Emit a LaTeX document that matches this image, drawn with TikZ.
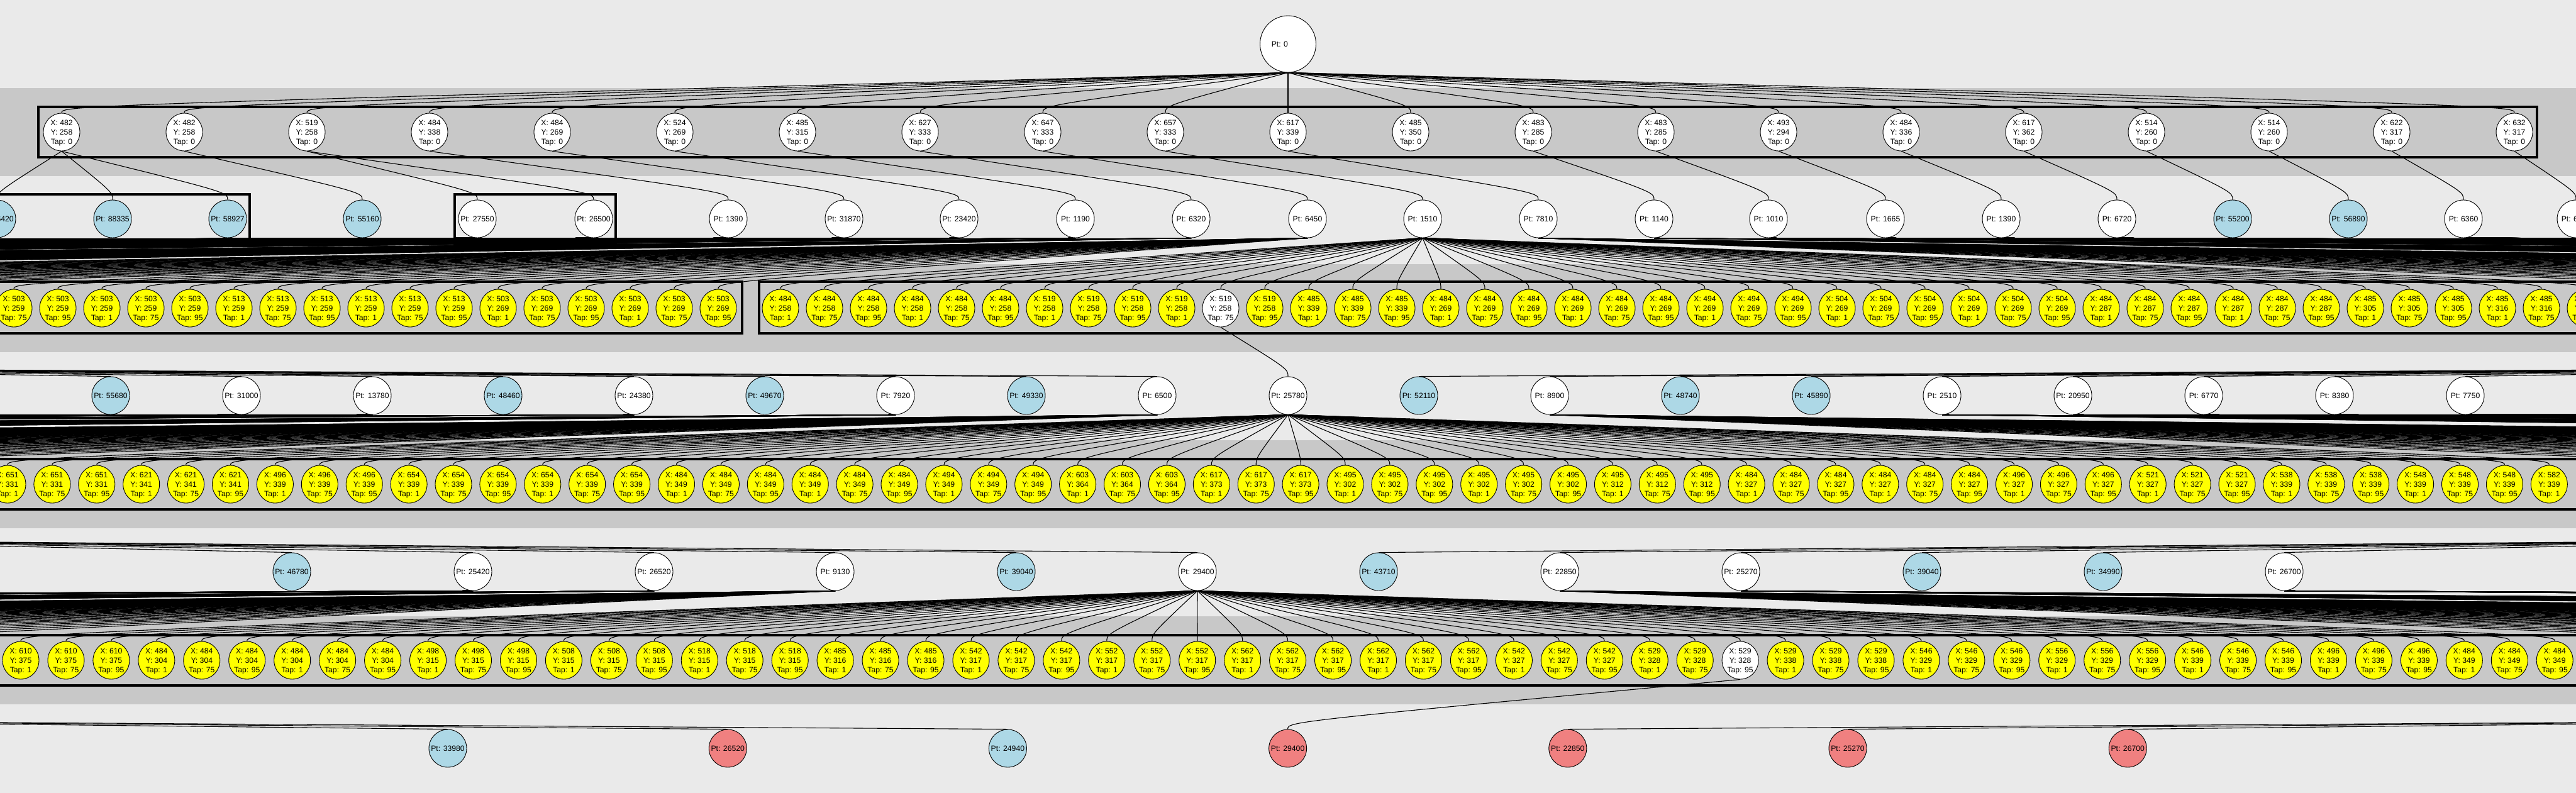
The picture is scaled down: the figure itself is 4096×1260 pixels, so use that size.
\documentclass[tikz,border=0pt]{standalone}
\usepackage{fontspec}
\setmainfont{Liberation Sans}
\usetikzlibrary{shapes.geometric,calc}
\definecolor{bgl}{HTML}{EAEAEA}
\definecolor{bgd}{HTML}{C8C8C8}
\definecolor{lblue}{HTML}{ADD8E6}
\definecolor{lcoral}{HTML}{F08080}
\definecolor{ylw}{HTML}{FFFF00}
\pgfdeclarelayer{back}
\pgfdeclarelayer{edges}
\pgfsetlayers{back,edges,main}
\newcommand\ntx[1]{\makebox[0pt]{\raisebox{-2.2pt}[0pt][0pt]{\begin{tabular}{@{}c@{}}#1\end{tabular}}}}
\newcommand\kedge[2]{\draw[ed] (#1.south) .. controls ($(#2.north)+(0,-12)$) .. (#2.north);}
\newcommand\farleft[7]{\foreach \m in {0,...,#7}{\pgfmathsetmacro\ye{#3+(#4-#3)*(#2/100+0.1)/(#2/100-(#5)+\m*#6)}\draw[ed] (#1.south) -- (-10,\ye);}}
\newcommand\farright[7]{\foreach \m in {0,...,#7}{\pgfmathsetmacro\ye{#3+(#4-#3)*(41.06-#2/100)/((#5)+\m*#6-#2/100)}\draw[ed] (#1.south) -- (4106,\ye);}}
\tikzset{
 nd/.style={ellipse,draw=black,line width=0.45pt,inner sep=0pt,minimum width=29pt,minimum height=30pt,font=\fontsize{6.1}{7.5}\selectfont},
 xn/.style={nd,fill=white},
 pw/.style={nd,fill=white,minimum width=30pt},
 pb/.style={nd,fill=lblue,minimum width=30pt},
 pr/.style={nd,fill=lcoral,minimum width=30pt},
 ed/.style={draw=black,line width=0.55pt},
 clus/.style={draw=black,line width=2pt}
}
\begin{document}
\begin{tikzpicture}[x=0.5pt,y=-0.5pt]
\useasboundingbox (0,0) rectangle (4096,1260);
\begin{pgfonlayer}{back}
\clip (0,0) rectangle (4096,1260);
\fill[bgl] (-10,-10) rectangle (4106,1270);
\foreach \yb in {140,420,700,980} {\fill[bgd] (-10,\yb) rectangle (4106,\yb+140);}
\draw[clus] (61,170) rectangle (4034,250);
\draw[clus] (-60,309) rectangle (397,388);
\draw[clus] (723,309) rectangle (979,388);
\draw[clus] (-2000,448) rectangle (1180,530);
\draw[clus] (1207,448) rectangle (4300,530);
\draw[clus] (-100,730) rectangle (4300,810);
\draw[clus] (-100,1010) rectangle (4300,1090);
\end{pgfonlayer}
% ---------- nodes ----------
\node[nd,fill=white,minimum width=44.5pt,minimum height=45pt] (root) at (2048,70) {\makebox[0pt][r]{\raisebox{-2.2pt}[0pt][0pt]{Pt: 0}}};
\foreach \xa/\ya [count=\i from 0] in {482/258,482/258,519/258,484/338,484/269,524/269,485/315,627/333,647/333,657/333,617/339,485/350,483/285,483/285,493/294,484/336,617/362,514/260,514/260,622/317,632/317}
  {\node[xn] (r\i) at ({98+195*\i},210) {\ntx{X: \xa\\Y: \ya\\Tap: 0}};}
\foreach \xp/\lb/\st [count=\i from 0] in {-5/56420/pb,179/88335/pb,362/58927/pb,576/55160/pb,759/27550/pw,944/26500/pw,1158/1390/pw,1342/31870/pw,1525/23420/pw,1710/1190/pw,1894/6320/pw,2079/6450/pw,2262/1510/pw,2446/7810/pw,2630/1140/pw,2812/1010/pw,2998/1665/pw,3182/1390/pw,3366/6720/pw,3550/55200/pb,3734/56890/pb,3917/6360/pw,4096/6170/pw}
  {\node[\st] (q\i) at (\xp,348) {\ntx{Pt: \lb}};}
\foreach \xa/\ya/\ta [count=\k from 0] in {503/259/75,503/259/95,503/259/1,503/259/75,503/259/95,513/259/1,513/259/75,513/259/95,513/259/1,513/259/75,513/259/95,503/269/1,503/269/75,503/269/95,503/269/1,503/269/75,503/269/95}
  {\node[nd,fill=ylw] (la\k) at ({22+70*\k},490) {\ntx{X: \xa\\Y: \ya\\Tap: \ta}};}
\foreach \xa/\ya/\ta [count=\k from 0] in {484/258/1,484/258/75,484/258/95,484/258/1,484/258/75,484/258/95,519/258/1,519/258/75,519/258/95,519/258/1,519/258/75,519/258/95,485/339/1,485/339/75,485/339/95,484/269/1,484/269/75,484/269/95,484/269/1,484/269/75,484/269/95,494/269/1,494/269/75,494/269/95,504/269/1,504/269/75,504/269/95,504/269/1,504/269/75,504/269/95,484/287/1,484/287/75,484/287/95,484/287/1,484/287/75,484/287/95,485/305/1,485/305/75,485/305/95,485/316/1,485/316/75,485/316/95}
  {\ifnum\k=10 \def\fc{white}\else\def\fc{ylw}\fi
   \node[nd,fill=\fc] (ra\k) at ({1241+70*\k},490) {\ntx{X: \xa\\Y: \ya\\Tap: \ta}};}
\foreach \lb/\st [count=\i from 0] in {55680/pb,31000/pw,13780/pw,48460/pb,24380/pw,49670/pb,7920/pw,49330/pb,6500/pw,25780/pw,52110/pb,8900/pw,48740/pb,45890/pb,2510/pw,20950/pw,6770/pw,8380/pw,7750/pw}
  {\node[\st] (s\i) at ({176+208*\i},629) {\ntx{Pt: \lb}};}
\foreach \xa/\ya/\ta [count=\k from 0] in {651/331/1,651/331/75,651/331/95,621/341/1,621/341/75,621/341/95,496/339/1,496/339/75,496/339/95,654/339/1,654/339/75,654/339/95,654/339/1,654/339/75,654/339/95,484/349/1,484/349/75,484/349/95,484/349/1,484/349/75,484/349/95,494/349/1,494/349/75,494/349/95,603/364/1,603/364/75,603/364/95,617/373/1,617/373/75,617/373/95,495/302/1,495/302/75,495/302/95,495/302/1,495/302/75,495/302/95,495/312/1,495/312/75,495/312/95,484/327/1,484/327/75,484/327/95,484/327/1,484/327/75,484/327/95,496/327/1,496/327/75,496/327/95,521/327/1,521/327/75,521/327/95,538/339/1,538/339/75,538/339/95,548/339/1,548/339/75,548/339/95,582/339/1}
  {\node[nd,fill=ylw] (rb\k) at ({12+70.9*\k},770) {\ntx{X: \xa\\Y: \ya\\Tap: \ta}};}
\foreach \lb/\st [count=\i from 0] in {46780/pb,25420/pw,26520/pw,9130/pw,39040/pb,29400/pw,43710/pb,22850/pw,25270/pw,39040/pb,34990/pb,26700/pw}
  {\node[\st] (t\i) at ({464+288*\i},909) {\ntx{Pt: \lb}};}
\foreach \xa/\ya/\ta [count=\k from 0] in {610/375/1,610/375/75,610/375/95,484/304/1,484/304/75,484/304/95,484/304/1,484/304/75,484/304/95,498/315/1,498/315/75,498/315/95,508/315/1,508/315/75,508/315/95,518/315/1,518/315/75,518/315/95,485/316/1,485/316/75,485/316/95,542/317/1,542/317/75,542/317/95,552/317/1,552/317/75,552/317/95,562/317/1,562/317/75,562/317/95,562/317/1,562/317/75,562/317/95,542/327/1,542/327/75,542/327/95,529/328/1,529/328/75,529/328/95,529/338/1,529/338/75,529/338/95,546/329/1,546/329/75,546/329/95,556/329/1,556/329/75,556/329/95,546/339/1,546/339/75,546/339/95,496/339/1,496/339/75,496/339/95,484/349/1,484/349/75,484/349/95}
  {\ifnum\k=38 \def\fc{white}\else\def\fc{ylw}\fi
   \node[nd,fill=\fc] (rc\k) at ({33+71.95*\k},1050) {\ntx{X: \xa\\Y: \ya\\Tap: \ta}};}
\foreach \lb/\st [count=\i from 0] in {33980/pb,26520/pr,24940/pb,29400/pr,22850/pr,25270/pr,26700/pr}
  {\node[\st] (u\i) at ({712+445.2*\i},1190) {\ntx{Pt: \lb}};}
% ---------- edges ----------
\begin{pgfonlayer}{edges}
\clip (0,0) rectangle (4096,1260);
\foreach \i in {0,...,20} {\kedge{root}{r\i}}
\foreach \a/\b in {0/0,0/1,0/2,1/3,2/4,2/5,3/6,4/7,5/8,6/9,7/10,8/11,9/12,10/13,12/14,13/15,14/16,15/17,16/18,17/19,18/20,19/21,20/22} {\kedge{r\a}{q\b}}
% layer A
\foreach \k in {0,...,16} {\kedge{q11}{la\k}}
\foreach \n in {1,...,25} {\draw[ed] (q11.south) -- ({22-70*\n},448);}
\foreach \k in {0,...,41} {\kedge{q12}{ra\k}}
\farleft{q10}{1894}{378}{448}{-18.25}{0.70}{41}
\farleft{q9}{1710}{378}{448}{-47.93}{0.70}{41}
\farleft{q8}{1525}{378}{448}{-77.61}{0.70}{41}
\farleft{q7}{1342}{378}{448}{-107.29}{0.70}{41}
\farleft{q6}{1158}{378}{448}{-136.97}{0.70}{41}
\farleft{q5}{944}{378}{448}{-166.65}{0.70}{41}
\farleft{q4}{759}{378}{448}{-196.33}{0.70}{41}
\farright{q13}{2446}{378}{448}{42.10}{0.70}{41}
\farright{q14}{2630}{378}{448}{71.78}{0.70}{41}
\farright{q15}{2812}{378}{448}{101.46}{0.70}{41}
\farright{q16}{2998}{378}{448}{131.14}{0.70}{41}
\farright{q17}{3182}{378}{448}{160.82}{0.70}{41}
\farright{q18}{3366}{378}{448}{190.50}{0.70}{41}
\farright{q21}{3917}{378}{448}{220.18}{0.70}{41}
% into row 4
\kedge{ra10}{s9}
\foreach \i in {0,...,8}{\pgfmathsetmacro\ye{599-79*((176+208*\i)/100+0.1)/((176+208*\i)/100+40+10*\i)}\draw[ed] (-10,\ye) -- (s\i.north);}
\foreach \i in {10,...,18}{\pgfmathsetmacro\ye{599-79*(41.06-(176+208*\i)/100)/(80.96+10*(18-\i)-(176+208*\i)/100)}\draw[ed] (4106,\ye) -- (s\i.north);}
% layer B
\foreach \k in {0,...,57} {\kedge{s9}{rb\k}}
\farleft{s8}{1840}{659}{728}{-0.87}{0.709}{57}
\farleft{s6}{1424}{659}{728}{-42.27}{0.709}{57}
\farleft{s4}{1008}{659}{728}{-83.67}{0.709}{57}
\farleft{s2}{592}{659}{728}{-125.07}{0.709}{57}
\farleft{s1}{384}{659}{728}{-166.47}{0.709}{57}
\farright{s11}{2464}{659}{728}{41.52}{0.709}{57}
\farright{s14}{3088}{659}{728}{82.92}{0.709}{57}
\farright{s15}{3296}{659}{728}{124.32}{0.709}{57}
\farright{s16}{3504}{659}{728}{165.72}{0.709}{57}
\farright{s17}{3712}{659}{728}{207.12}{0.709}{57}
\farright{s18}{3920}{659}{728}{248.52}{0.709}{57}
% into row 5
\foreach \i in {0,...,5}{\pgfmathsetmacro\ye{879-79*((464+288*\i)/100+0.1)/((464+288*\i)/100+30+8*\i)}\draw[ed] (-10,\ye) -- (t\i.north);}
\foreach \i in {6,...,11}{\pgfmathsetmacro\ye{879-79*(41.06-(464+288*\i)/100)/(70.96+8*(11-\i)-(464+288*\i)/100)}\draw[ed] (4106,\ye) -- (t\i.north);}
% layer C
\foreach \k in {0,...,56} {\kedge{t5}{rc\k}}
\farleft{t3}{1328}{939}{1008}{-0.67}{0.7195}{56}
\farleft{t2}{1040}{939}{1008}{-41.96}{0.7195}{56}
\farleft{t1}{752}{939}{1008}{-83.25}{0.7195}{56}
\farright{t7}{2480}{939}{1008}{41.62}{0.7195}{56}
\farright{t8}{2768}{939}{1008}{82.91}{0.7195}{56}
\farright{t11}{3632}{939}{1008}{124.20}{0.7195}{56}
% into row 6
\kedge{rc38}{u3}
\foreach \i in {0,...,2}{\pgfmathsetmacro\ye{1160-80*((712+445.2*\i)/100+0.1)/((712+445.2*\i)/100+60+20*\i)}\draw[ed] (-10,\ye) -- (u\i.north);}
\foreach \i in {4,...,6}{\pgfmathsetmacro\ye{1160-80*(41.06-(712+445.2*\i)/100)/(100.96+20*(6-\i)-(712+445.2*\i)/100)}\draw[ed] (4106,\ye) -- (u\i.north);}
\end{pgfonlayer}
\end{tikzpicture}
\end{document}
